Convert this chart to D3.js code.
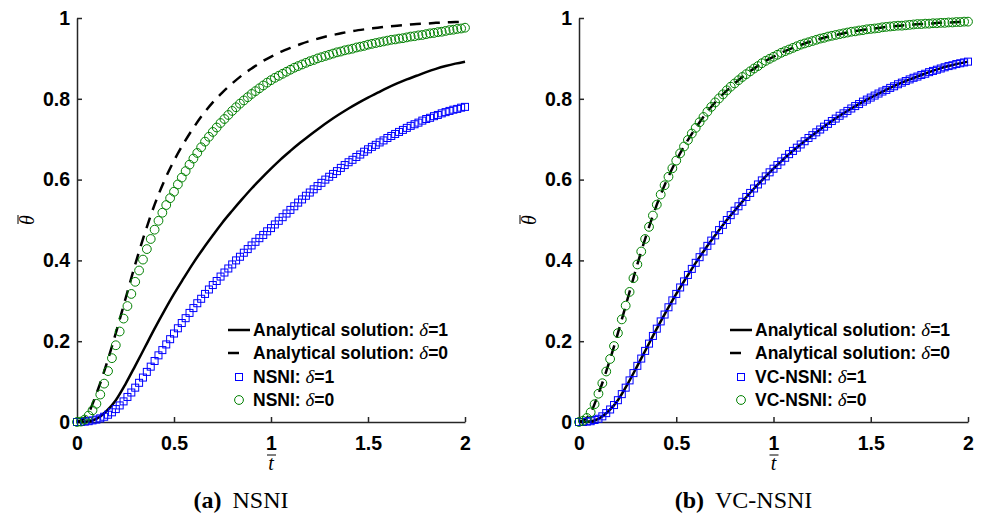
<!DOCTYPE html>
<html>
<head>
<meta charset="utf-8">
<script src="https://cdn.jsdelivr.net/npm/d3@7"></script>
<style>
  body { margin: 0; background: #fff; }
  svg { display: block; }
  .tick text { font-family: "Liberation Sans", Arial, sans-serif; font-weight: bold; font-size: 19.5px; fill: #000; }
  .tick line, .domain { stroke: #262626; stroke-width: 1.5; }
</style>
</head>
<body>
<script>
// time grids (t-bar)
const tLine = [0,0.05,0.1,0.15,0.2,0.25,0.3,0.35,0.4,0.45,0.5,0.55,0.6,0.65,0.7,0.75,0.8,0.85,0.9,0.95,1,
  1.05,1.1,1.15,1.2,1.25,1.3,1.35,1.4,1.45,1.5,1.55,1.6,1.65,1.7,1.75,1.8,1.85,1.9,1.95,2];
const tMark = [
  0,0.02,0.04,0.06,0.08,0.1,0.12,0.14,0.16,0.18,
  0.2,0.22,0.24,0.26,0.28,0.3,0.32,0.34,0.36,0.38,
  0.4,0.42,0.44,0.46,0.48,0.5,0.52,0.54,0.56,0.58,
  0.6,0.62,0.64,0.66,0.68,0.7,0.72,0.74,0.76,0.78,
  0.8,0.82,0.84,0.86,0.88,0.9,0.92,0.94,0.96,0.98,
  1,1.02,1.04,1.06,1.08,1.1,1.12,1.14,1.16,1.18,
  1.2,1.22,1.24,1.26,1.28,1.3,1.32,1.34,1.36,1.38,
  1.4,1.42,1.44,1.46,1.48,1.5,1.52,1.54,1.56,1.58,
  1.6,1.62,1.64,1.66,1.68,1.7,1.72,1.74,1.76,1.78,
  1.8,1.82,1.84,1.86,1.88,1.9,1.92,1.94,1.96,1.98,
  2];

// analytical solutions (lines)
const analytic1 = [0,0.001,0.008,0.026,0.054,0.094,0.139,0.185,0.231,0.275,0.317,0.356,0.394,0.429,0.462,0.494,0.523,0.551,0.578,0.603,0.627,
  0.65,0.671,0.691,0.71,0.728,0.745,0.761,0.776,0.79,0.803,0.815,0.827,0.838,0.848,0.857,0.866,0.874,0.881,0.887,0.892];
const analytic0 = [0,0.015,0.07,0.14,0.22,0.305,0.39,0.468,0.538,0.597,0.647,0.69,0.728,0.762,0.791,0.816,0.838,0.858,0.875,0.891,0.904,
  0.916,0.926,0.935,0.943,0.95,0.956,0.961,0.966,0.97,0.973,0.976,0.979,0.981,0.983,0.985,0.986,0.988,0.989,0.99,0.991];

// NSNI (panel a markers)
const nsni1 = [
  0,0,0.001,0.002,0.004,0.006,0.009,0.013,0.018,0.024,
  0.032,0.041,0.051,0.062,0.073,0.085,0.097,0.11,0.124,0.137,
  0.151,0.165,0.178,0.192,0.205,0.219,0.232,0.245,0.257,0.27,
  0.282,0.294,0.305,0.317,0.328,0.339,0.349,0.36,0.37,0.38,
  0.39,0.4,0.409,0.419,0.428,0.437,0.446,0.455,0.463,0.472,
  0.48,0.489,0.498,0.507,0.516,0.525,0.534,0.543,0.551,0.56,
  0.568,0.576,0.584,0.592,0.6,0.607,0.614,0.621,0.629,0.636,
  0.643,0.649,0.656,0.662,0.669,0.675,0.681,0.686,0.692,0.697,
  0.703,0.708,0.713,0.718,0.723,0.728,0.733,0.737,0.741,0.746,
  0.75,0.753,0.757,0.76,0.764,0.767,0.77,0.773,0.775,0.778,
  0.78];
const nsni0 = [
  0,0.001,0.006,0.016,0.029,0.045,0.068,0.095,0.126,0.158,
  0.19,0.224,0.256,0.287,0.317,0.347,0.375,0.402,0.428,0.453,
  0.476,0.498,0.518,0.537,0.554,0.57,0.588,0.605,0.621,0.637,
  0.652,0.666,0.68,0.694,0.706,0.718,0.729,0.74,0.75,0.76,
  0.77,0.779,0.788,0.796,0.804,0.812,0.819,0.826,0.833,0.84,
  0.846,0.852,0.857,0.862,0.867,0.872,0.877,0.881,0.885,0.889,
  0.893,0.896,0.9,0.903,0.906,0.909,0.912,0.915,0.917,0.92,
  0.922,0.924,0.927,0.929,0.931,0.934,0.936,0.938,0.94,0.942,
  0.944,0.946,0.947,0.949,0.95,0.952,0.954,0.955,0.957,0.958,
  0.96,0.962,0.963,0.965,0.966,0.968,0.97,0.971,0.973,0.974,
  0.976];

// VC-NSNI (panel b markers)
const vc1 = [
  0,0,0.001,0.002,0.005,0.008,0.014,0.022,0.031,0.042,
  0.054,0.069,0.085,0.103,0.121,0.139,0.157,0.176,0.194,0.213,
  0.231,0.249,0.266,0.284,0.301,0.317,0.333,0.348,0.364,0.379,
  0.394,0.408,0.422,0.436,0.449,0.462,0.475,0.488,0.5,0.512,
  0.523,0.534,0.545,0.557,0.567,0.578,0.588,0.598,0.608,0.618,
  0.627,0.636,0.645,0.654,0.663,0.671,0.679,0.687,0.695,0.703,
  0.71,0.717,0.724,0.731,0.738,0.745,0.751,0.758,0.764,0.77,
  0.776,0.782,0.787,0.793,0.798,0.803,0.808,0.813,0.818,0.822,
  0.827,0.831,0.836,0.84,0.844,0.848,0.852,0.855,0.859,0.862,
  0.866,0.869,0.872,0.875,0.878,0.881,0.883,0.886,0.888,0.89,
  0.892];
const vc0 = [
  0,0.003,0.01,0.024,0.044,0.07,0.096,0.125,0.156,0.188,
  0.22,0.254,0.288,0.322,0.356,0.39,0.422,0.453,0.483,0.511,
  0.538,0.563,0.586,0.607,0.628,0.647,0.665,0.682,0.698,0.714,
  0.728,0.742,0.755,0.768,0.78,0.791,0.801,0.811,0.821,0.83,
  0.838,0.846,0.854,0.861,0.868,0.875,0.881,0.888,0.894,0.899,
  0.904,0.909,0.914,0.918,0.922,0.926,0.93,0.934,0.937,0.94,
  0.943,0.946,0.949,0.951,0.954,0.956,0.958,0.96,0.962,0.964,
  0.966,0.967,0.969,0.97,0.972,0.973,0.974,0.975,0.977,0.978,
  0.979,0.98,0.981,0.981,0.982,0.983,0.984,0.985,0.985,0.986,
  0.986,0.987,0.987,0.988,0.988,0.989,0.989,0.99,0.99,0.991,
  0.991];

const xTicks = [0, 0.5, 1, 1.5, 2];
const yTicks = [0, 0.2, 0.4, 0.6, 0.8, 1];

const panels = [
  { x0: 77, x1: 465, tag: "(a)", name: "NSNI", m1: nsni1, m0: nsni0 },
  { x0: 579, x1: 968, tag: "(b)", name: "VC-NSNI", m1: vc1, m0: vc0 }
];

const W = 981, H = 518, yTop = 18, yBot = 422;
const BLUE = "#0000ff", GREEN = "#008000";
const sans = '"Liberation Sans", Arial, sans-serif';
const serif = '"Liberation Serif", "Times New Roman", serif';

const svg = d3.select("body").append("svg").attr("width", W).attr("height", H);

panels.forEach(p => {
  const x = d3.scaleLinear().domain([0, 2]).range([p.x0, p.x1]);
  const y = d3.scaleLinear().domain([0, 1]).range([yBot, yTop]);
  const g = svg.append("g");

  // axes, ticks inward
  g.append("g").attr("transform", `translate(0,${yBot})`)
    .call(d3.axisBottom(x).tickValues(xTicks).tickFormat(d => String(d))
      .tickSizeInner(-5).tickSizeOuter(0).tickPadding(14));
  g.append("g").attr("transform", `translate(${p.x0},0)`)
    .call(d3.axisLeft(y).tickValues(yTicks).tickFormat(d => String(d))
      .tickSizeInner(-5).tickSizeOuter(0).tickPadding(7));

  // analytical lines
  const line = d3.line().x((d, i) => x(tLine[i])).y(d => y(d)).curve(d3.curveMonotoneX);
  g.append("path").datum(analytic1).attr("d", line)
    .attr("fill", "none").attr("stroke", "#000").attr("stroke-width", 2.5);
  g.append("path").datum(analytic0).attr("d", line)
    .attr("fill", "none").attr("stroke", "#000").attr("stroke-width", 2.5)
    .attr("stroke-dasharray", "11,8");

  // markers
  const sq = 7;
  g.append("g").selectAll("rect").data(p.m1).join("rect")
    .attr("x", (d, i) => x(tMark[i]) - sq / 2).attr("y", d => y(d) - sq / 2)
    .attr("width", sq).attr("height", sq)
    .attr("fill", "none").attr("stroke", BLUE).attr("stroke-width", 1);
  g.append("g").selectAll("circle").data(p.m0).join("circle")
    .attr("cx", (d, i) => x(tMark[i])).attr("cy", d => y(d)).attr("r", 4.4)
    .attr("fill", "none").attr("stroke", GREEN).attr("stroke-width", 1);

  // axis labels
  const tx = (p.x0 + p.x1) / 2;
  g.append("text").attr("x", tx).attr("y", 470).attr("text-anchor", "middle")
    .attr("font-family", serif).attr("font-style", "italic").attr("font-size", 20).text("t");
  g.append("line").attr("x1", tx - 4).attr("x2", tx + 5).attr("y1", 455).attr("y2", 455)
    .attr("stroke", "#000").attr("stroke-width", 1);
  const yl = g.append("g").attr("transform", `translate(${p.x0 - 43},220) rotate(-90)`);
  yl.append("text").attr("text-anchor", "middle")
    .attr("font-family", serif).attr("font-style", "italic").attr("font-size", 20).text("θ");
  yl.append("line").attr("x1", -4).attr("x2", 5).attr("y1", -16).attr("y2", -16)
    .attr("stroke", "#000").attr("stroke-width", 1);

  // legend
  const lx = p.x0 + 151, rows = [330, 353, 377, 400];
  const labels = ["Analytical solution: ", "Analytical solution: ", p.name + ": ", p.name + ": "];
  const vals = ["=1", "=0", "=1", "=0"];
  g.append("line").attr("x1", lx).attr("x2", lx + 22).attr("y1", rows[0]).attr("y2", rows[0])
    .attr("stroke", "#000").attr("stroke-width", 2.5);
  g.append("line").attr("x1", lx).attr("x2", lx + 11).attr("y1", rows[1]).attr("y2", rows[1])
    .attr("stroke", "#000").attr("stroke-width", 2.5);
  g.append("rect").attr("x", lx + 11 - 3.5).attr("y", rows[2] - 3.5).attr("width", 7).attr("height", 7)
    .attr("fill", "none").attr("stroke", BLUE);
  g.append("circle").attr("cx", lx + 11).attr("cy", rows[3]).attr("r", 4.4)
    .attr("fill", "none").attr("stroke", GREEN);
  rows.forEach((ry, i) => {
    const t = g.append("text").attr("x", lx + 25).attr("y", ry).attr("dy", "0.36em")
      .attr("font-family", sans).attr("font-weight", "bold").attr("font-size", 17.5);
    t.append("tspan").text(labels[i]);
    t.append("tspan").attr("font-family", serif).attr("font-style", "italic")
      .attr("font-weight", "normal").attr("font-size", 19).text("δ");
    t.append("tspan").text(vals[i]);
  });

  // caption
  const cap = g.append("text").attr("x", tx - 30).attr("y", 508).attr("text-anchor", "middle")
    .attr("font-family", serif).attr("font-size", 24);
  cap.append("tspan").attr("font-weight", "bold").text(p.tag);
  cap.append("tspan").attr("dx", 11).text(p.name);
});
</script>
</body>
</html>
